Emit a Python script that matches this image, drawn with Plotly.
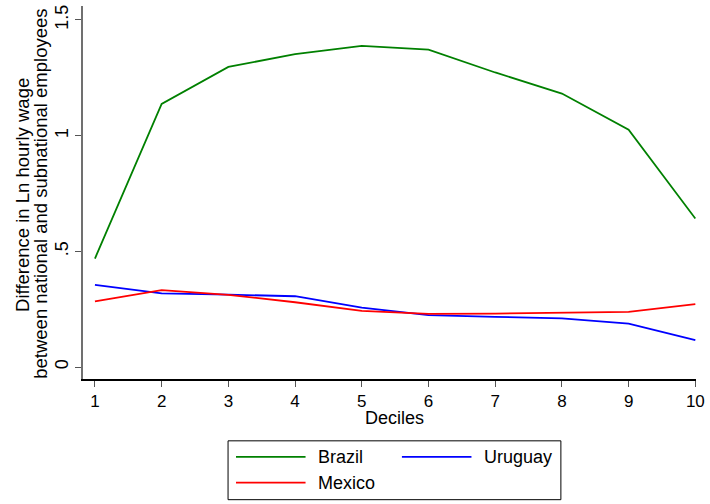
import plotly.graph_objects as go

# Wage gap (Ln hourly wage) between national and subnational employees, by decile
deciles = [1, 2, 3, 4, 5, 6, 7, 8, 9, 10]
brazil = [0.469, 1.137, 1.297, 1.352, 1.388, 1.372, 1.273, 1.182, 1.026, 0.642]
uruguay = [0.355, 0.318, 0.313, 0.306, 0.257, 0.224, 0.217, 0.210, 0.188, 0.116]
mexico = [0.284, 0.332, 0.312, 0.280, 0.243, 0.230, 0.231, 0.236, 0.238, 0.272]

y_tickvals = [0, 0.5, 1, 1.5]
y_ticktext = ["0", ".5", "1", "1.5"]

series = [
    ("Brazil", brazil, "#008000"),
    ("Uruguay", uruguay, "#0000ff"),
    ("Mexico", mexico, "#ff0000"),
]

FONT = "Liberation Sans, Arial, Helvetica, sans-serif"

# plot-area geometry in pixels
L, R, T, B = 83, 10, 5, 125
W, H = 710, 504
PW, PH = W - L - R, H - T - B


def px_x(x):
    return (x - L) / PW


def px_y(y):
    return (H - B - y) / PH


fig = go.Figure()
for name, vals, color in series:
    fig.add_trace(go.Scatter(
        x=deciles, y=vals, mode="lines", name=name,
        line=dict(color=color, width=1.8), showlegend=False,
    ))

fig.update_layout(
    width=W, height=H,
    margin=dict(l=L, r=R, t=T, b=B),
    paper_bgcolor="white", plot_bgcolor="white",
    font=dict(family=FONT, size=17, color="black"),
    xaxis=dict(
        range=[0.821, 10.01], tickvals=deciles, ticks="outside", ticklen=6,
        tickcolor="#555", showline=True, linecolor="black", linewidth=1.5,
        showgrid=False, zeroline=False, tickfont=dict(size=17),
    ),
    yaxis=dict(
        range=[-0.0517, 1.5603], tickvals=y_tickvals, ticktext=y_ticktext,
        tickangle=-90, ticks="outside", ticklen=6, tickcolor="#555",
        showline=True, linecolor="#707070", linewidth=2,
        showgrid=False, zeroline=False, tickfont=dict(size=18),
    ),
)

annotations = [
    dict(text="Difference in Ln hourly wage", textangle=-90,
         xref="paper", yref="paper", x=px_x(22), y=px_y(194),
         xanchor="center", yanchor="middle", showarrow=False,
         font=dict(size=18.5)),
    dict(text="between national and subnational employees", textangle=-90,
         xref="paper", yref="paper", x=px_x(40), y=px_y(193),
         xanchor="center", yanchor="middle", showarrow=False,
         font=dict(size=18.5)),
    dict(text="Deciles", xref="paper", yref="paper", x=px_x(397), y=px_y(418),
         xanchor="center", yanchor="middle", showarrow=False,
         font=dict(size=18)),
]

# Legend box below the plot: two columns (Brazil, Uruguay / Mexico)
shapes = [dict(type="rect", xref="paper", yref="paper",
               x0=px_x(229), x1=px_x(564), y0=px_y(500), y1=px_y(441),
               line=dict(color="black", width=1), fillcolor="white")]
slots = [(237, 457), (404, 457), (237, 483)]
for (name, _, color), (sx, sy) in zip(series, slots):
    shapes.append(dict(type="line", xref="paper", yref="paper",
                       x0=px_x(sx), x1=px_x(sx + 70), y0=px_y(sy), y1=px_y(sy),
                       line=dict(color=color, width=1.8)))
    annotations.append(dict(text=name, xref="paper", yref="paper",
                            x=px_x(sx + 81), y=px_y(sy), xanchor="left",
                            yanchor="middle", showarrow=False,
                            font=dict(size=18, color="black")))
fig.update_layout(shapes=shapes, annotations=annotations)

fig.write_html("out.html")
